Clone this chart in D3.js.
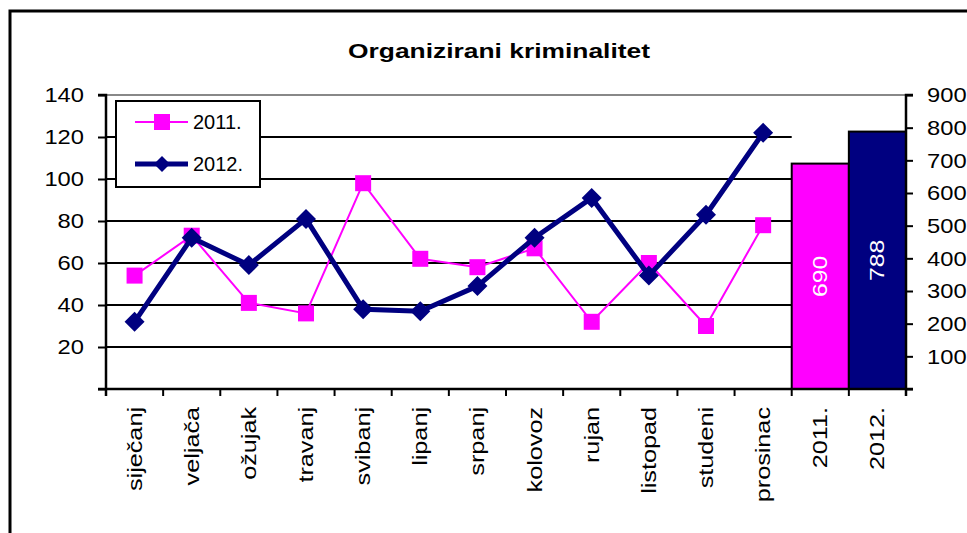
<!DOCTYPE html>
<html>
<head>
<meta charset="utf-8">
<script src="https://cdn.jsdelivr.net/npm/d3@7"></script>
<style>
  body { margin: 0; background: #fff; }
  text { font-family: "Liberation Sans", Arial, sans-serif; fill: #000; }
</style>
</head>
<body>
<div id="canvas"></div>
<script>
const months = ["siječanj", "veljača", "ožujak", "travanj", "svibanj", "lipanj",
  "srpanj", "kolovoz", "rujan", "listopad", "studeni", "prosinac"];
const years = ["2011.", "2012."];
const values2011 = [54, 73, 41, 36, 98, 62, 58, 67, 32, 60, 30, 78];
const values2012 = [32, 72, 59, 81, 38, 37, 49, 72, 91, 54, 83, 122];
const totals = [690, 788];
const leftTicks = [0, 20, 40, 60, 80, 100, 120, 140];
const rightTicks = [0, 100, 200, 300, 400, 500, 600, 700, 800, 900];

const pink = "#ff00ff";
const navy = "#000080";

// the source renders its text somewhat wide, stretch along the baseline
function stretch(sel, k) {
  sel.each(function () {
    const len = this.getComputedTextLength();
    if (len > 0) {
      d3.select(this)
        .attr("textLength", len * k)
        .attr("lengthAdjust", "spacingAndGlyphs");
    }
  });
}

const svg = d3
  .select("#canvas")
  .append("svg")
  .attr("width", 967)
  .attr("height", 533);

// outer frame (runs off the right and bottom edge)
svg.append("rect")
  .attr("x", 10).attr("y", 11)
  .attr("width", 1000).attr("height", 600)
  .attr("fill", "none").attr("stroke", "#000").attr("stroke-width", 3);

svg.append("text")
  .attr("x", 499).attr("y", 58)
  .attr("text-anchor", "middle")
  .attr("font-size", 21).attr("font-weight", "bold")
  .attr("textLength", 302).attr("lengthAdjust", "spacingAndGlyphs")
  .text("Organizirani kriminalitet");

const x = d3.scaleBand().domain(months.concat(years)).range([106, 906]).padding(0);
const yL = d3.scaleLinear().domain([0, 140]).range([389, 95]);
const yR = d3.scaleLinear().domain([0, 900]).range([389, 95]);

const xStart = x(months[0]);
const xMonthsEnd = x(years[0]);

// gridlines in month area
svg.append("g")
  .selectAll("line")
  .data(leftTicks.filter(d => d > 0 && d < 140))
  .enter()
  .append("line")
  .attr("x1", xStart).attr("x2", xMonthsEnd)
  .attr("y1", d => yL(d)).attr("y2", d => yL(d))
  .attr("stroke", "#000").attr("stroke-width", 2);

// gray top border
svg.append("line")
  .attr("x1", xStart).attr("x2", 906)
  .attr("y1", yL(140)).attr("y2", yL(140))
  .attr("stroke", "#888").attr("stroke-width", 2);

// bars for yearly totals
svg.append("g")
  .selectAll("rect")
  .data(totals)
  .enter()
  .append("rect")
  .attr("x", (d, i) => x(years[i]))
  .attr("y", d => yR(d))
  .attr("width", x.bandwidth())
  .attr("height", d => yR(0) - yR(d))
  .attr("fill", (d, i) => (i === 0 ? pink : navy))
  .attr("stroke", "#000").attr("stroke-width", 2);

svg.append("g")
  .selectAll("text")
  .data(totals)
  .enter()
  .append("text")
  .attr("transform", (d, i) => {
    const cx = x(years[i]) + x.bandwidth() / 2;
    const cy = (yR(d) + yR(0)) / 2;
    return `translate(${cx + 7},${cy}) rotate(-90)`;
  })
  .attr("text-anchor", "middle")
  .attr("font-size", 21)
  .style("fill", "#fff")
  .text(d => d)
  .call(stretch, 1.18);

// axes
const leftAxis = svg.append("g")
  .attr("transform", "translate(106,0)")
  .call(d3.axisLeft(yL).tickValues(leftTicks).tickSize(8).tickPadding(14)
    .tickFormat(d => (d === 0 ? "" : d)));

const rightAxis = svg.append("g")
  .attr("transform", "translate(906,0)")
  .call(d3.axisRight(yR).tickValues(rightTicks).tickSize(7).tickPadding(14)
    .tickFormat(d => (d === 0 ? "" : d)));

[leftAxis, rightAxis].forEach(a => {
  a.select(".domain").attr("stroke", "#000").attr("stroke-width", 2.5);
  a.selectAll(".tick line").attr("stroke", "#000").attr("stroke-width", 2);
  a.selectAll("text").attr("font-size", 21).attr("font-family", null)
    .call(stretch, 1.13);
});
leftAxis.select(".domain").attr("d", `M-8,${yL(140)}H0V${yL(0) + 7}`);
rightAxis.select(".domain").attr("d", `M7,${yR(900)}H0V${yR(0) + 7}`);

// bottom axis with ticks on category boundaries
const bottom = svg.append("g");
bottom.append("line")
  .attr("x1", 98).attr("x2", 913)
  .attr("y1", yL(0)).attr("y2", yL(0))
  .attr("stroke", "#000").attr("stroke-width", 2.5);
bottom.selectAll(".bt")
  .data(months.concat(years).map(d => x(d)).concat([906]))
  .enter()
  .append("line")
  .attr("x1", d => d).attr("x2", d => d)
  .attr("y1", yL(0)).attr("y2", yL(0) + 7)
  .attr("stroke", "#000").attr("stroke-width", 2);
bottom.selectAll("text")
  .data(months.concat(years))
  .enter()
  .append("text")
  .attr("transform", d => `translate(${x(d) + x.bandwidth() / 2 + 7},407) rotate(-90)`)
  .attr("text-anchor", "end")
  .attr("font-size", 21)
  .text(d => d)
  .call(stretch, 1.2);

// lines
const line = d3.line()
  .x((d, i) => x(months[i]) + x.bandwidth() / 2)
  .y(d => yL(d));

svg.append("path")
  .datum(values2011)
  .attr("d", line)
  .attr("fill", "none").attr("stroke", pink).attr("stroke-width", 2);

svg.append("g")
  .selectAll("rect")
  .data(values2011)
  .enter()
  .append("rect")
  .attr("x", (d, i) => x(months[i]) + x.bandwidth() / 2 - 8)
  .attr("y", d => yL(d) - 8)
  .attr("width", 16).attr("height", 16)
  .attr("fill", pink);

svg.append("path")
  .datum(values2012)
  .attr("d", line)
  .attr("fill", "none").attr("stroke", navy).attr("stroke-width", 5)
  .attr("stroke-linejoin", "round");

const diamond = "M0,-10L10,0L0,10L-10,0Z";
svg.append("g")
  .selectAll("path")
  .data(values2012)
  .enter()
  .append("path")
  .attr("transform", (d, i) => `translate(${x(months[i]) + x.bandwidth() / 2},${yL(d)})`)
  .attr("d", diamond)
  .attr("fill", navy);

// legend
const legend = svg.append("g");
legend.append("rect")
  .attr("x", 116).attr("y", 101)
  .attr("width", 144).attr("height", 86)
  .attr("fill", "#fff").attr("stroke", "#000").attr("stroke-width", 2);

const legendItems = [
  { label: years[0], color: pink, width: 2, y: 122 },
  { label: years[1], color: navy, width: 5, y: 164 }
];
legendItems.forEach((d, i) => {
  legend.append("line")
    .attr("x1", 135).attr("x2", 188)
    .attr("y1", d.y).attr("y2", d.y)
    .attr("stroke", d.color).attr("stroke-width", d.width);
  if (i === 0) {
    legend.append("rect")
      .attr("x", 154).attr("y", d.y - 8)
      .attr("width", 16).attr("height", 16)
      .attr("fill", pink);
  } else {
    legend.append("path")
      .attr("transform", `translate(162,${d.y})`)
      .attr("d", "M0,-8L8,0L0,8L-8,0Z")
      .attr("fill", navy);
  }
  legend.append("text")
    .attr("x", 193).attr("y", d.y + 7)
    .attr("font-size", 20)
    .text(d.label);
});
</script>
</body>
</html>
